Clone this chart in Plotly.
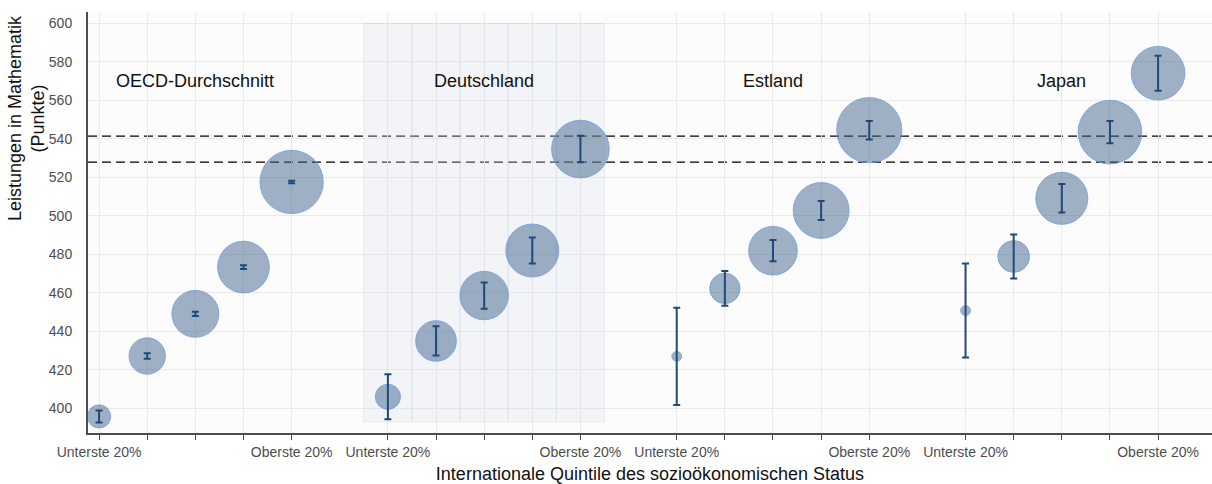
import plotly.graph_objects as go

# ---- data ----
gruppen = ["OECD-Durchschnitt", "Deutschland", "Estland", "Japan"]
quintil_labels = ["Unterste 20%", "", "", "", "Oberste 20%"]

mittel_oecd = [395.8, 427.2, 449.1, 473.4, 517.6]
mittel_de = [406.0, 435.0, 458.6, 482.0, 534.7]
mittel_ee = [427.0, 462.3, 481.9, 502.8, 544.5]
mittel_jp = [450.8, 478.9, 509.1, 543.5, 574.1]

fehler_oecd = [3.1, 1.4, 1.1, 1.0, 0.7]
fehler_de = [11.7, 7.6, 6.8, 6.8, 6.9]
fehler_ee = [25.2, 9.0, 5.5, 4.9, 4.8]
fehler_jp = [24.4, 11.4, 7.4, 5.8, 9.1]

anteil_oecd = [5.0, 12.3, 20.5, 24.9, 37.3]
anteil_de = [5.9, 15.4, 21.8, 26.1, 30.9]
anteil_ee = [0.9, 8.6, 22.0, 29.0, 39.5]
anteil_jp = [0.9, 9.4, 25.2, 37.7, 26.8]

referenzlinien = [541.4, 527.9]
band_de = [393, 600]
label_y = 570

mittel = [mittel_oecd, mittel_de, mittel_ee, mittel_jp]
fehler = [fehler_oecd, fehler_de, fehler_ee, fehler_jp]
anteil = [anteil_oecd, anteil_de, anteil_ee, anteil_jp]

# category positions: 5 quintiles per group, one empty slot between groups
pos = [[g * 6 + q for q in range(5)] for g in range(len(gruppen))]
xs = [x for p in pos for x in p]
ys = [v for m in mittel for v in m]
es = [v for f in fehler for v in f]
ss = [v for a in anteil for v in a]

fig = go.Figure()

# shaded Germany band
fig.add_trace(go.Bar(
    x=pos[1], y=[band_de[1] - band_de[0]] * 5, base=[band_de[0]] * 5,
    width=1, marker=dict(color="rgba(214,222,234,0.28)",
                         line=dict(color="rgba(200,210,222,0.3)", width=1)),
    hoverinfo="skip", showlegend=False))

# bubbles
fig.add_trace(go.Scatter(
    x=xs, y=ys, mode="markers",
    marker=dict(size=ss, sizemode="area", sizeref=2 / 107.5, opacity=1,
                color="rgba(66,100,140,0.5)",
                line=dict(color="rgba(112,160,228,0.85)", width=1)),
    showlegend=False))

# error bars on top
fig.add_trace(go.Scatter(
    x=xs, y=ys, mode="markers",
    marker=dict(size=1, color="rgba(0,0,0,0)"),
    error_y=dict(type="data", array=es, color="#1f4a78", thickness=2, width=3.5),
    showlegend=False))

for yv in referenzlinien:
    fig.add_shape(type="line", xref="paper", x0=0, x1=1, y0=yv, y1=yv,
                  layer="between",
                  line=dict(color="black", width=1.1, dash="9px,5px"))

for g, name in enumerate(gruppen):
    fig.add_annotation(x=pos[g][2], y=label_y, text=name, showarrow=False,
                       font=dict(size=18, color="#111"))

fig.add_annotation(xref="paper", yref="paper", x=-0.0552, y=0.748,
                   text="Leistungen in Mathematik<br>(Punkte)", textangle=-90,
                   showarrow=False, xanchor="center", yanchor="middle",
                   font=dict(size=18, color="#111"))

fig.update_layout(
    width=1212, height=484,
    margin=dict(l=88, r=0, t=12, b=51),
    paper_bgcolor="white", plot_bgcolor="#fcfcfc",
    font=dict(family="Liberation Sans, Arial, sans-serif", color="#4d4d4d"),
    barmode="overlay",
    xaxis=dict(
        range=[-0.23, 23.12], tickmode="array", tickvals=xs,
        ticktext=quintil_labels * len(gruppen),
        ticks="outside", ticklen=5, tickcolor="#4d4d4d", tickwidth=1,
        tickfont=dict(size=14, color="#4d4d4d"),
        showgrid=True, gridcolor="#e9e9e9", gridwidth=1,
        showline=True, linecolor="#4d4d4d", linewidth=2, zeroline=False,
        title=dict(text="Internationale Quintile des sozioökonomischen Status",
                   font=dict(size=18, color="#111"), standoff=13),
    ),
    yaxis=dict(
        range=[387.2, 605.9], tickmode="linear", tick0=400, dtick=20,
        ticks="", ticklabelstandoff=11,
        tickfont=dict(size=14, color="#4d4d4d"),
        showgrid=True, gridcolor="#e9e9e9", gridwidth=1,
        showline=True, linecolor="#4d4d4d", linewidth=2, zeroline=False,
    ),
)

fig.write_html("out.html")
